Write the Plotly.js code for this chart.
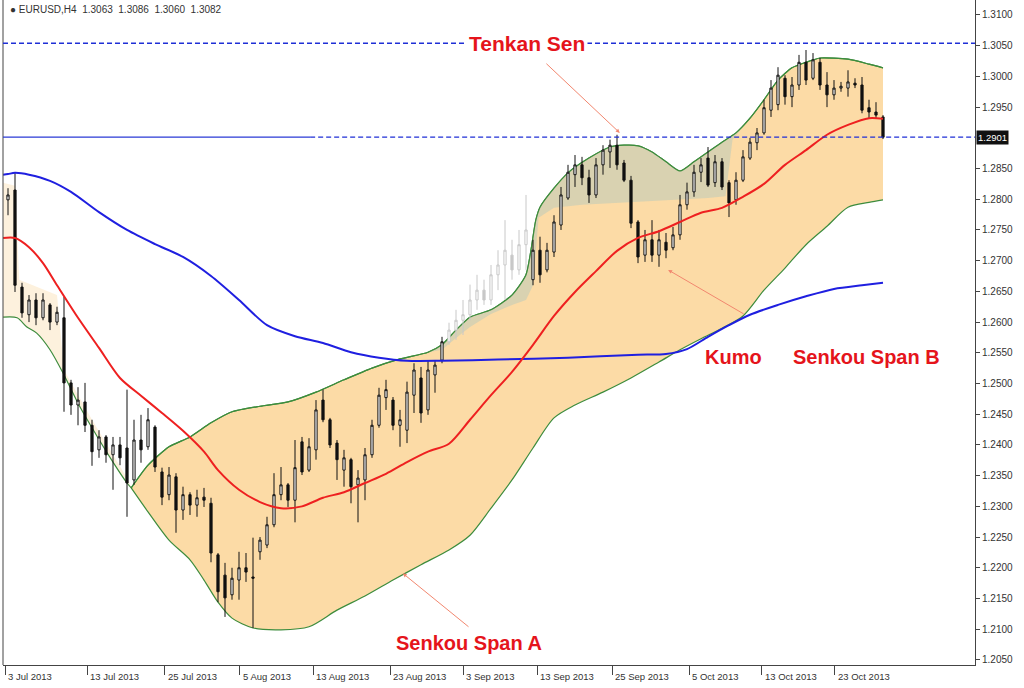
<!DOCTYPE html>
<html><head><meta charset="utf-8">
<script src="https://cdn.plot.ly/plotly-3.0.1.min.js"></script>
<style>html,body{margin:0;padding:0;background:#fff;}#chart{width:1024px;height:688px;}</style>
</head><body><div id="chart"></div>
<script>
// ---- candles (bar number = position in array) ----
const candleOpen = [1.2799,1.2815,1.2657,1.2612,1.2636,1.2607,1.2628,1.2600,1.2607,1.2501,
1.2465,1.2470,1.2432,1.2392,1.2413,1.2384,1.2400,1.2395,1.2343,1.2408,
1.2397,1.2429,1.2356,1.2319,1.2348,1.2294,1.2319,1.2302,1.2315,1.2305,
1.2221,1.2188,1.2156,1.2180,1.2200,1.2185,1.2226,1.2237,1.2270,1.2319,
1.2335,1.2310,1.2405,1.2359,1.2392,1.2473,1.2441,1.2403,1.2359,1.2376,
1.2335,1.2343,1.2384,1.2432,1.2477,1.2473,1.2432,1.2424,1.2481,1.2509,
1.2457,1.2514,1.2538,1.2568,1.2587,1.2603,1.2612,1.2636,1.2652,1.2636,
1.2677,1.2693,1.2709,1.2685,1.2726,1.2669,1.2717,1.2685,1.2714,1.2758,
1.2802,1.2840,1.2856,1.2835,1.2807,1.2856,1.2877,1.2888,1.2859,1.2831,
1.2763,1.2709,1.2734,1.2709,1.2730,1.2721,1.2742,1.2791,1.2812,1.2844,
1.2867,1.2827,1.2861,1.2827,1.2799,1.2831,1.2867,1.2892,1.2908,1.2945,
1.2954,1.2997,1.2967,1.2986,1.3023,1.2997,1.3023,1.2986,1.2970,1.2981,
1.2981,1.2989,1.2986,1.2949,1.2942,1.2934];
const candleHigh = [1.2818,1.2843,1.2664,1.2644,1.2647,1.2647,1.2631,1.2625,1.2641,1.2506,
1.2494,1.2501,1.2441,1.2424,1.2416,1.2413,1.2413,1.2490,1.2441,1.2449,
1.2460,1.2432,1.2363,1.2364,1.2354,1.2332,1.2323,1.2327,1.2330,1.2314,
1.2224,1.2208,1.2200,1.2226,1.2224,1.2249,1.2250,1.2283,1.2354,1.2364,
1.2338,1.2408,1.2413,1.2411,1.2473,1.2490,1.2444,1.2408,1.2392,1.2379,
1.2359,1.2395,1.2441,1.2493,1.2506,1.2478,1.2457,1.2503,1.2533,1.2527,
1.2538,1.2538,1.2576,1.2599,1.2620,1.2636,1.2661,1.2677,1.2669,1.2693,
1.2717,1.2766,1.2734,1.2750,1.2807,1.2734,1.2739,1.2729,1.2774,1.2820,
1.2856,1.2872,1.2869,1.2848,1.2867,1.2888,1.2897,1.2905,1.2864,1.2838,
1.2766,1.2750,1.2766,1.2750,1.2745,1.2755,1.2807,1.2827,1.2856,1.2867,
1.2885,1.2872,1.2867,1.2831,1.2844,1.2880,1.2900,1.2916,1.2962,1.2994,
1.3015,1.3002,1.2999,1.3035,1.3043,1.3038,1.3030,1.3007,1.2994,1.2991,
1.3010,1.2997,1.2999,1.2962,1.2958,1.2937];
const candleLow = [1.2774,1.2649,1.2607,1.2600,1.2595,1.2603,1.2587,1.2595,1.2454,1.2449,
1.2432,1.2421,1.2366,1.2379,1.2371,1.2327,1.2367,1.2283,1.2335,1.2371,
1.2392,1.2356,1.2302,1.2310,1.2257,1.2278,1.2286,1.2283,1.2299,1.2209,
1.2144,1.2120,1.2148,1.2148,1.2177,1.2102,1.2213,1.2232,1.2266,1.2310,
1.2299,1.2274,1.2351,1.2356,1.2376,1.2437,1.2395,1.2343,1.2332,1.2305,
1.2274,1.2310,1.2379,1.2428,1.2457,1.2424,1.2397,1.2403,1.2452,1.2436,
1.2449,1.2485,1.2533,1.2563,1.2571,1.2579,1.2603,1.2620,1.2628,1.2628,
1.2652,1.2636,1.2669,1.2677,1.2685,1.2660,1.2664,1.2681,1.2706,1.2750,
1.2799,1.2820,1.2823,1.2794,1.2802,1.2840,1.2851,1.2848,1.2828,1.2753,
1.2696,1.2698,1.2698,1.2690,1.2704,1.2717,1.2734,1.2783,1.2804,1.2828,
1.2820,1.2820,1.2815,1.2771,1.2791,1.2828,1.2864,1.2880,1.2905,1.2934,
1.2945,1.2954,1.2950,1.2978,1.2986,1.2994,1.2978,1.2950,1.2962,1.2975,
1.2967,1.2981,1.2940,1.2932,1.2932,1.2898];
const candleClose = [1.2807,1.2660,1.2615,1.2636,1.2607,1.2636,1.2600,1.2616,1.2501,1.2465,
1.2473,1.2432,1.2389,1.2413,1.2384,1.2400,1.2379,1.2338,1.2408,1.2392,
1.2441,1.2364,1.2315,1.2351,1.2294,1.2319,1.2302,1.2314,1.2310,1.2224,
1.2161,1.2151,1.2183,1.2200,1.2193,1.2183,1.2245,1.2270,1.2319,1.2335,
1.2310,1.2363,1.2356,1.2397,1.2457,1.2441,1.2400,1.2376,1.2379,1.2332,
1.2346,1.2384,1.2432,1.2481,1.2490,1.2432,1.2441,1.2486,1.2522,1.2452,
1.2522,1.2530,1.2568,1.2587,1.2603,1.2612,1.2636,1.2652,1.2636,1.2677,
1.2693,1.2717,1.2685,1.2726,1.2750,1.2717,1.2677,1.2717,1.2763,1.2807,
1.2844,1.2856,1.2835,1.2807,1.2856,1.2880,1.2888,1.2856,1.2831,1.2761,
1.2706,1.2734,1.2709,1.2734,1.2717,1.2742,1.2791,1.2812,1.2844,1.2856,
1.2823,1.2861,1.2820,1.2794,1.2831,1.2869,1.2893,1.2908,1.2949,1.2981,
1.3002,1.2967,1.2986,1.3023,1.2994,1.3027,1.2986,1.2970,1.2981,1.2984,
1.2991,1.2986,1.2945,1.2942,1.2937,1.2901];
const ghostFirst = 63, ghostLast = 74;   // faint bars

// ---- indicator lines (x = bar number) ----
const kijunX = [-0.7,0,1,3,6,9,13,17,21,25,29,33,37,41,45,49,53,57,62,70,80,90,94,97,100,103,106,110,114,118,122,125];
const kijunY = [1.2840,1.2841,1.2843,1.2840,1.2830,1.2812,1.2779,1.2750,1.2727,1.2706,1.2675,1.2636,1.2595,1.2577,1.2566,1.2551,1.2542,1.2537,1.2537,1.2539,1.2542,1.2547,1.2548,1.2556,1.2576,1.2595,1.2612,1.2628,1.2642,1.2654,1.2660,1.2664];
const tenkanX = [-0.7,1,3,5,7,10,13,16,19,22,25,28,30,33,36,39,42,45,48,51,54,57,60,63,66,69,72,75,78,81,84,87,90,93,96,99,102,105,108,111,114,117,120,123,125];
const tenkanY = [1.2737,1.2737,1.2722,1.2696,1.2660,1.2607,1.2558,1.2509,1.2480,1.2452,1.2423,1.2389,1.2359,1.2327,1.2307,1.2297,1.2300,1.2314,1.2323,1.2338,1.2353,1.2372,1.2389,1.2402,1.2441,1.2481,1.2519,1.2563,1.2610,1.2649,1.2683,1.2716,1.2737,1.2748,1.2763,1.2778,1.2786,1.2804,1.2825,1.2856,1.2880,1.2905,1.2921,1.2932,1.2931];
const leftLowX = [-0.7,1.3,2.7,4.1,6,8,10,12,15,17,17.6];
const leftLowY = [1.2608,1.2607,1.2592,1.2582,1.2555,1.2514,1.2468,1.2428,1.2372,1.2338,1.2330];
const leftTopX = [-0.7,1,1.6,7,8,12,15,17,17.6];
const leftTopY = [1.2827,1.2822,1.2669,1.2644,1.2522,1.2441,1.2384,1.2346,1.2330];
const spanAX = [17.6,20,23,26,29,32,36,40,44,48,52,56,60,62,64,66,69,72,74,75.4,76,78,80,83,86,88,90,92,94,96,98,100,102,104,106,108,110,112,114,116,120,123,125];
const spanAY = [1.2330,1.2367,1.2397,1.2413,1.2436,1.2454,1.2463,1.2470,1.2486,1.2506,1.2525,1.2540,1.2551,1.2563,1.2587,1.2608,1.2620,1.2644,1.2677,1.2766,1.2787,1.2818,1.2843,1.2867,1.2885,1.2888,1.2887,1.2877,1.2861,1.2846,1.2861,1.2877,1.2893,1.2908,1.2932,1.2962,1.2994,1.3014,1.3023,1.3030,1.3028,1.3020,1.3014];
const kumoLowX = [17.6,20,23,26,28,30,32,35,39,43,47,51,55,59,63,66,69,72,75,78,81,85,89,93,96,99,102,105,108,111,114,117,120,123,125];
const kumoLowY = [1.2330,1.2291,1.2245,1.2213,1.2180,1.2144,1.2118,1.2102,1.2099,1.2104,1.2131,1.2154,1.2180,1.2205,1.2229,1.2253,1.2297,1.2343,1.2395,1.2444,1.2465,1.2486,1.2509,1.2535,1.2555,1.2573,1.2590,1.2610,1.2652,1.2688,1.2726,1.2756,1.2787,1.2795,1.2799];
const spanBX = [60,62,64,66,69,72,74,75,75.8,78,82,88,94,100,102.5,103.5,105,106];
const spanBY = [1.2551,1.2555,1.2574,1.2592,1.2613,1.2628,1.2636,1.2660,1.2770,1.2786,1.2791,1.2795,1.2799,1.2802,1.2805,1.2897,1.2918,1.2932];

const topLevel = 1.3054, priceLevel = 1.2901;

// ---- ticks ----
const xTickPos = [-0.4,11.3,22.4,33.1,43.6,54.6,65,75.6,86.3,97.3,107.7,118.1];
const xTickLabels = ["3 Jul 2013","13 Jul 2013","25 Jul 2013","5 Aug 2013","13 Aug 2013","23 Aug 2013","3 Sep 2013","13 Sep 2013","25 Sep 2013","5 Oct 2013","13 Oct 2013","23 Oct 2013"];
const yTickLabels = ["1.3100","1.3050","1.3000","1.2950","1.2850","1.2800","1.2750","1.2700","1.2650","1.2600","1.2550","1.2500","1.2450","1.2400","1.2350","1.2300","1.2250","1.2200","1.2150","1.2100","1.2050"];
const headerText = "● EURUSD,H4  1.3063  1.3086  1.3060  1.3082";

// ---- build ----
const FONT = 'Liberation Sans, Arial, sans-serif';
const green = '#3d8c3d', red = '#e5141b';
const XR = [-0.714, 138.143], YR = [1.20417, 1.31244];
const idx = candleOpen.map((_, i) => i);
function pick(cond) {
  const sel = idx.filter(cond);
  return {x: sel, open: sel.map(i => candleOpen[i]), high: sel.map(i => candleHigh[i]),
          low: sel.map(i => candleLow[i]), close: sel.map(i => candleClose[i])};
}
const mainC = pick(i => i < ghostFirst || i > ghostLast);
const ghostC = pick(i => i >= ghostFirst && i <= ghostLast);
const segX = [], segY = [];
spanAX.forEach((x, k) => { if (x >= spanBX[0] && x <= spanBX[spanBX.length - 1]) { segX.push(x); segY.push(spanAY[k]); } });

const traces = [
  {x: leftLowX, y: leftLowY, mode: 'lines', line: {color: green, width: 1.2, shape: 'spline', smoothing: 0.8}, hoverinfo: 'skip'},
  {x: leftTopX, y: leftTopY, mode: 'lines', line: {width: 0}, fill: 'tonexty', fillcolor: 'rgba(252,237,212,0.8)', hoverinfo: 'skip'},
  {x: kumoLowX, y: kumoLowY, mode: 'lines', line: {color: green, width: 1.2, shape: 'spline', smoothing: 0.8}, hoverinfo: 'skip'},
  {x: spanAX, y: spanAY, mode: 'lines', line: {color: green, width: 1.2, shape: 'spline', smoothing: 0.6}, fill: 'tonexty', fillcolor: 'rgb(252,219,166)', hoverinfo: 'skip'},
  {x: spanBX, y: spanBY, mode: 'lines', line: {width: 0}, hoverinfo: 'skip'},
  {x: segX, y: segY, mode: 'lines', line: {width: 0, shape: 'spline', smoothing: 0.6}, fill: 'tonexty', fillcolor: 'rgba(208,208,180,0.8)', hoverinfo: 'skip'},
  {x: spanAX, y: spanAY, mode: 'lines', line: {color: green, width: 1.2, shape: 'spline', smoothing: 0.6}, hoverinfo: 'skip'},
  // overlay subplot: candles above the cloud, lines above candles
  Object.assign({type: 'candlestick', xaxis: 'x2', yaxis: 'y2', whiskerwidth: 0, hoverinfo: 'skip',
    increasing: {line: {color: '#c8c8c8', width: 1}, fillcolor: '#ffffff'},
    decreasing: {line: {color: '#c8c8c8', width: 1}, fillcolor: '#c8c8c8'}}, ghostC),
  Object.assign({type: 'candlestick', xaxis: 'x2', yaxis: 'y2', whiskerwidth: 0, hoverinfo: 'skip',
    increasing: {line: {color: '#111111', width: 1}, fillcolor: '#ffffff'},
    decreasing: {line: {color: '#111111', width: 1}, fillcolor: '#111111'}}, mainC),
  {x: kijunX, y: kijunY, xaxis: 'x2', yaxis: 'y2', mode: 'lines', line: {color: '#1f1fe0', width: 2, shape: 'spline', smoothing: 0.8}, hoverinfo: 'skip'},
  {x: tenkanX, y: tenkanY, xaxis: 'x2', yaxis: 'y2', mode: 'lines', line: {color: '#ee2020', width: 2, shape: 'spline', smoothing: 0.8}, hoverinfo: 'skip'}
];

const annotations = [
  {xref: 'paper', yref: 'paper', x: 0.005, y: 0.985, xanchor: 'left', yanchor: 'middle', showarrow: false,
   text: headerText, font: {family: FONT, size: 10, color: '#333'}},
  {x: 74.1, y: topLevel, text: 'Tenkan Sen', showarrow: false, bgcolor: '#ffffff', borderpad: 2,
   font: {family: FONT, size: 21, color: red, weight: 'bold'}},
  {x: 103.7, y: 1.2543, text: 'Kumo', showarrow: false, font: {family: FONT, size: 20, color: red, weight: 'bold'}},
  {x: 122.7, y: 1.2543, text: 'Senkou Span B', showarrow: false, font: {family: FONT, size: 20, color: red, weight: 'bold'}},
  {x: 65.9, y: 1.2078, text: 'Senkou Span A', showarrow: false, font: {family: FONT, size: 20, color: red, weight: 'bold'}},
  {x: 87.4, y: 1.2908, ax: 76.7, ay: 1.3023, axref: 'x', ayref: 'y', text: '', showarrow: true, arrowhead: 2, arrowsize: 0.8, arrowwidth: 1, arrowcolor: '#f2876f'},
  {x: 94.3, y: 1.2685, ax: 105.3, ay: 1.2612, axref: 'x', ayref: 'y', text: '', showarrow: true, arrowhead: 2, arrowsize: 0.8, arrowwidth: 1, arrowcolor: '#f2876f'},
  {x: 56.4, y: 1.2191, ax: 66, ay: 1.2102, axref: 'x', ayref: 'y', text: '', showarrow: true, arrowhead: 2, arrowsize: 0.8, arrowwidth: 1, arrowcolor: '#f2876f'},
  {xref: 'paper', yref: 'y', x: 1, y: priceLevel, xanchor: 'left', yanchor: 'middle', xshift: 1, showarrow: false,
   text: priceLevel.toFixed(4), bgcolor: '#111111', font: {family: FONT, size: 9.5, color: '#ffffff'}, borderpad: 1}
];
xTickPos.forEach((p, k) => annotations.push({x: p, y: -0.006, xref: 'x', yref: 'paper', xanchor: 'left', yanchor: 'top',
  xshift: 1, showarrow: false, text: xTickLabels[k], font: {family: FONT, size: 9.5, color: '#333'}}));

const layout = {
  width: 1024, height: 688, margin: {l: 3, r: 49, t: 0, b: 23},
  paper_bgcolor: '#ffffff', plot_bgcolor: '#ffffff', showlegend: false,
  boxgap: 0.55,
  xaxis: {range: XR, showgrid: false, zeroline: false, tickmode: 'array', tickvals: xTickPos,
    ticks: 'outside', ticklen: 9, tickcolor: '#444', showticklabels: false, showline: true, linecolor: '#444',
    rangeslider: {visible: false}, fixedrange: true},
  yaxis: {range: YR, side: 'right', showgrid: false, zeroline: false, tickmode: 'array',
    tickvals: yTickLabels.map(parseFloat), ticktext: yTickLabels, ticks: 'outside', ticklen: 4, tickcolor: '#444',
    tickfont: {family: FONT, size: 10, color: '#333'}, showline: true, linecolor: '#444', fixedrange: true},
  xaxis2: {overlaying: 'x', range: XR, visible: false, showgrid: false, zeroline: false, rangeslider: {visible: false}, fixedrange: true},
  yaxis2: {overlaying: 'y', side: 'right', range: YR, visible: false, showgrid: false, zeroline: false, fixedrange: true},
  shapes: [
    {type: 'line', xref: 'paper', yref: 'paper', x0: 0, x1: 0, y0: 0, y1: 1, line: {color: '#444', width: 1}},
    {type: 'line', xref: 'paper', yref: 'y', x0: 0, x1: 1, y0: topLevel, y1: topLevel, line: {color: '#1f2fd6', width: 1.3, dash: '5px,3px'}},
    {type: 'line', xref: 'paper', yref: 'y', x0: 0, x1: 0.316, y0: priceLevel, y1: priceLevel, line: {color: '#2a3ad6', width: 1.2}},
    {type: 'line', xref: 'paper', yref: 'y', x0: 0.316, x1: 1, y0: priceLevel, y1: priceLevel, line: {color: '#1f2fd6', width: 1.3, dash: '5px,3px'}}
  ],
  annotations: annotations
};
Plotly.newPlot('chart', traces, layout, {staticPlot: true, displayModeBar: false});
</script></body></html>
